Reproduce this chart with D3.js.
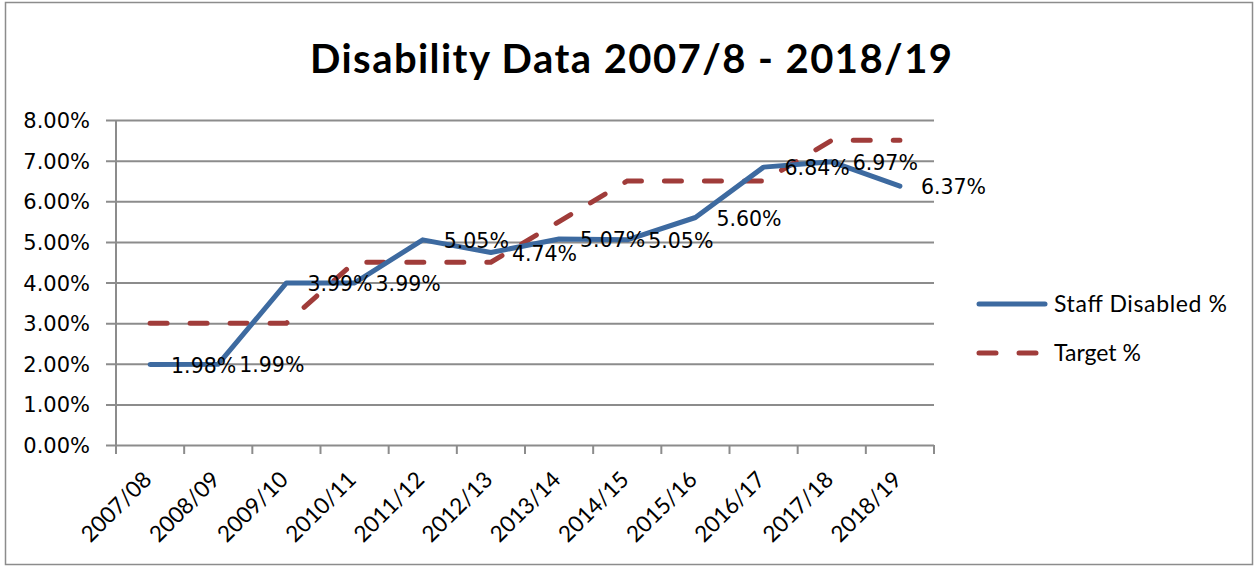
<!DOCTYPE html>
<html>
<head>
<meta charset="utf-8">
<script src="https://cdn.jsdelivr.net/npm/d3@7"></script>
<style>
  body { margin: 0; background: #fff; }
</style>
</head>
<body>
<div id="viz"></div>
<script>
// data
const years = ['2007/08', '2008/09', '2009/10', '2010/11', '2011/12', '2012/13',
  '2013/14', '2014/15', '2015/16', '2016/17', '2017/18', '2018/19'];
const staffDisabled = [1.98, 1.99, 3.99, 3.99, 5.05, 4.74, 5.07, 5.05, 5.60, 6.84, 6.97, 6.37];
const target = [3, 3, 3, 4.5, 4.5, 4.5, 5.5, 6.5, 6.5, 6.5, 7.5, 7.5];
const yTicks = [0, 1, 2, 3, 4, 5, 6, 7, 8];

let blue = '#3d6aa0';
let red = '#a03c3a';
let gridCol = '#8c8c8c';

const W = 1256, H = 567;
const plotL = 116, plotR = 934, plotT = 120, plotB = 445;

let svg = d3.select('#viz').append('svg')
  .attr('width', W)
  .attr('height', H);

// outer border
svg.append('rect')
  .attr('x', 5.5).attr('y', 2.5)
  .attr('width', 1247).attr('height', 562)
  .attr('fill', 'none')
  .attr('stroke', '#8c8c8c')
  .attr('stroke-width', 1.5);

let x = d3.scaleBand().domain(years).range([plotL, plotR]);
let y = d3.scaleLinear().domain([0, 8]).range([plotB, plotT]);

// title
svg.append('text')
  .attr('x', 310).attr('y', 73)
  .attr('font-family', 'Lato, sans-serif')
  .attr('font-weight', 'bold')
  .attr('font-size', 40)
  .attr('textLength', 642)
  .attr('lengthAdjust', 'spacing')
  .text('Disability Data 2007/8 - 2018/19');

// gridlines + y labels
let yAxis = svg.append('g')
  .attr('transform', `translate(${plotL},0)`)
  .call(d3.axisLeft(y).tickValues(yTicks).tickSize(10)
    .tickFormat(d => d.toFixed(2) + '%'));
yAxis.select('.domain').remove();
yAxis.selectAll('.tick line')
  .attr('x2', plotR - plotL)
  .attr('x1', -10)
  .attr('stroke', gridCol)
  .attr('stroke-width', 2);
yAxis.selectAll('.tick text')
  .attr('x', -26)
  .attr('dy', '0.36em')
  .attr('font-family', 'DejaVu Sans, sans-serif')
  .attr('font-size', 21)
  .attr('fill', '#000');

// y axis line
svg.append('line')
  .attr('x1', plotL).attr('x2', plotL)
  .attr('y1', plotT).attr('y2', plotB + 9)
  .attr('stroke', gridCol).attr('stroke-width', 2);

// x ticks at category boundaries
let bounds = years.map(d => x(d)).concat([plotR]);
svg.append('g').selectAll('line')
  .data(bounds)
  .enter()
  .append('line')
  .attr('x1', d => d).attr('x2', d => d)
  .attr('y1', plotB).attr('y2', plotB + 9)
  .attr('stroke', gridCol).attr('stroke-width', 2);

// x labels
svg.append('g').selectAll('text')
  .data(years)
  .enter()
  .append('text')
  .attr('transform', d => `translate(${x(d) + x.bandwidth() / 2 + 3},${plotB + 36}) rotate(-45)`)
  .attr('text-anchor', 'end')
  .attr('font-family', 'Lato, sans-serif')
  .attr('font-size', 22.5)
  .text(d => d);

let line = d3.line()
  .x((d, i) => x(years[i]) + x.bandwidth() / 2)
  .y(d => y(d));

svg.append('path')
  .datum(target)
  .attr('d', line)
  .attr('fill', 'none')
  .attr('stroke', red)
  .attr('stroke-width', 5)
  .attr('stroke-linecap', 'round')
  .attr('stroke-dasharray', '17 23');

svg.append('path')
  .datum(staffDisabled)
  .attr('d', line)
  .attr('fill', 'none')
  .attr('stroke', blue)
  .attr('stroke-width', 5)
  .attr('stroke-linejoin', 'round')
  .attr('stroke-linecap', 'round');

// data labels
svg.append('g').selectAll('text')
  .data(staffDisabled)
  .enter()
  .append('text')
  .attr('x', (d, i) => x(years[i]) + x.bandwidth() / 2 + 21)
  .attr('y', d => y(d))
  .attr('dy', '0.4em')
  .attr('font-family', 'DejaVu Sans, sans-serif')
  .attr('font-size', 20.5)
  .text(d => d.toFixed(2) + '%');

// legend
let legend = svg.append('g');
legend.append('line')
  .attr('x1', 979).attr('x2', 1045)
  .attr('y1', 304).attr('y2', 304)
  .attr('stroke', blue).attr('stroke-width', 5)
  .attr('stroke-linecap', 'round');
legend.append('line')
  .attr('x1', 979).attr('x2', 1040)
  .attr('y1', 353).attr('y2', 353)
  .attr('stroke', red).attr('stroke-width', 5)
  .attr('stroke-linecap', 'round')
  .attr('stroke-dasharray', '17 23');
legend.append('text')
  .attr('x', 1054).attr('y', 304).attr('dy', '0.36em')
  .attr('font-family', 'Lato, sans-serif')
  .attr('font-size', 23)
  .attr('textLength', 173)
  .attr('lengthAdjust', 'spacing')
  .text('Staff Disabled %');
legend.append('text')
  .attr('x', 1054).attr('y', 353).attr('dy', '0.36em')
  .attr('font-family', 'Lato, sans-serif')
  .attr('font-size', 23)
  .text('Target %');
</script>
</body>
</html>
